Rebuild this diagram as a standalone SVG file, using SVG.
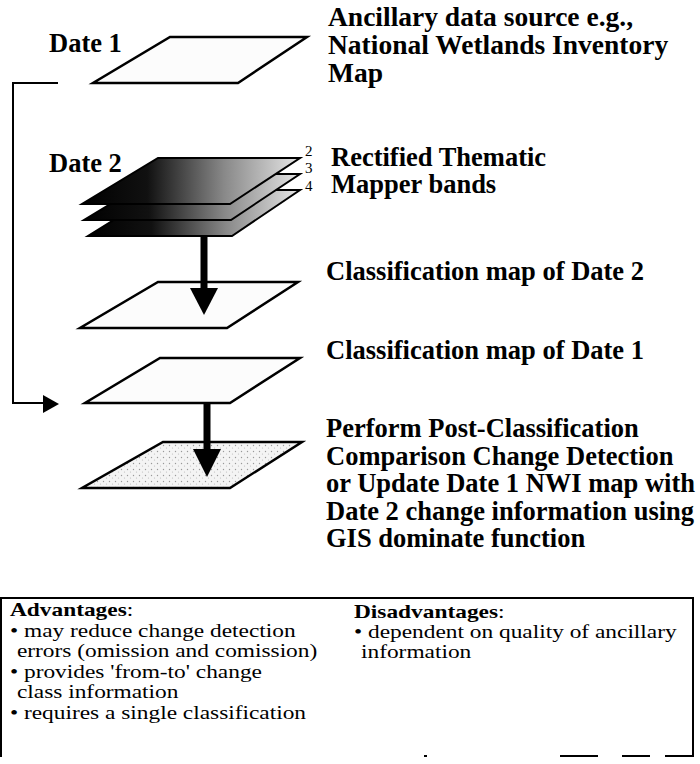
<svg xmlns="http://www.w3.org/2000/svg" width="700" height="764" viewBox="0 0 700 764">
<defs>
<style>
.lbl{font-family:"Liberation Serif","Times New Roman",serif;font-weight:bold;font-size:26.5px;fill:#000}
.top{font-size:27.5px}
.dt{font-family:"Liberation Serif","Times New Roman",serif;font-weight:bold;font-size:26.5px;fill:#000}
.num{font-family:"Liberation Serif","Times New Roman",serif;font-size:15px;fill:#000}
.box{font-family:"Liberation Serif","Times New Roman",serif;font-size:19px;fill:#000}
.para{fill:#fcfcfc;stroke:#000;stroke-width:2.5;stroke-linejoin:miter}
.layer{fill:url(#grad);stroke:#000;stroke-width:2}
.conn{fill:none;stroke:#000;stroke-width:2}
.shaft{fill:none;stroke:#000;stroke-width:7}
</style>
<linearGradient id="grad" x1="0" y1="0" x2="1" y2="0">
<stop offset="0" stop-color="#000"/>
<stop offset="0.3" stop-color="#111"/>
<stop offset="0.65" stop-color="#888"/>
<stop offset="1" stop-color="#e6e6e6"/>
</linearGradient>
<pattern id="stip" width="6" height="6" patternUnits="userSpaceOnUse">
<rect width="6" height="6" fill="#f4f4f4"/>
<circle cx="1.5" cy="1.5" r="0.7" fill="#999"/>
<circle cx="4.5" cy="4" r="0.6" fill="#bbb"/>
</pattern>
</defs>
<rect width="700" height="764" fill="#fff"/>

<g id="date1">
<text class="dt" x="49" y="52">Date 1</text>
<polygon class="para" points="170,37 307,37 238,83 93,83"/>
<text class="lbl top" x="328" y="26">Ancillary data source e.g.,</text>
<text class="lbl top" x="328" y="54">National Wetlands Inventory</text>
<text class="lbl top" x="328" y="82">Map</text>
</g>

<g id="date2">
<text class="dt" x="49" y="172">Date 2</text>
<polygon class="layer" points="162,190 300,190 232,236 88,236"/>
<polygon class="layer" points="160,174 300,174 231,220 84,220"/>
<polygon class="layer" points="158,158 300,158 230,204 82,204"/>
<text class="num" x="305" y="156">2</text>
<text class="num" x="305" y="173">3</text>
<text class="num" x="305" y="191">4</text>
<text class="lbl" x="331" y="166">Rectified Thematic</text>
<text class="lbl" x="331" y="193">Mapper bands</text>
</g>

<g id="class2">
<polygon class="para" points="158,282 298,282 227,328 80,328"/>
<text class="lbl" x="326" y="280">Classification map of Date 2</text>
</g>

<g id="class1">
<polygon class="para" points="160,358 300,358 230,403 85,403"/>
<text class="lbl" x="326" y="359">Classification map of Date 1</text>
</g>

<g id="result">
<polygon class="para" points="163,442 302,442 230,488 82,488" style="fill:url(#stip)"/>
<text class="lbl" x="326" y="437">Perform Post-Classification</text>
<text class="lbl" x="326" y="465">Comparison Change Detection</text>
<text class="lbl" x="326" y="492">or Update Date 1 NWI map with</text>
<text class="lbl" x="326" y="520">Date 2 change information using</text>
<text class="lbl" x="326" y="547">GIS dominate function</text>
</g>

<g id="connectors">
<path class="conn" d="M58,83 H13 V403 H44"/>
<polygon points="43,395 59,404 43,413" fill="#000"/>
<line class="shaft" x1="204" y1="237" x2="204" y2="290"/>
<polygon points="190,288 218,288 204,315" fill="#000"/>
<line class="shaft" x1="207" y1="403" x2="207" y2="451"/>
<polygon points="193,449 221,449 207,477" fill="#000"/>
</g>

<g id="summary">
<path class="conn" d="M1,757 V598 H693 V757"/>
<path class="conn" d="M424,756 h3 M560,756 h38 M622,756 h28 M665,756 h28"/>
<g transform="scale(1.23,1)">
<text class="box" x="8.1" y="616"><tspan font-weight="bold">Advantages</tspan>:</text>
<text class="box" x="8.1" y="637">• may reduce change detection</text>
<text class="box" x="13.8" y="657">errors (omission and comission)</text>
<text class="box" x="8.1" y="678">• provides 'from-to' change</text>
<text class="box" x="13.8" y="698">class information</text>
<text class="box" x="8.1" y="719">• requires a single classification</text>
<text class="box" x="287.8" y="618"><tspan font-weight="bold">Disadvantages</tspan>:</text>
<text class="box" x="287.8" y="638">• dependent on quality of ancillary</text>
<text class="box" x="293.5" y="658">information</text>
</g>
</g>
</svg>
